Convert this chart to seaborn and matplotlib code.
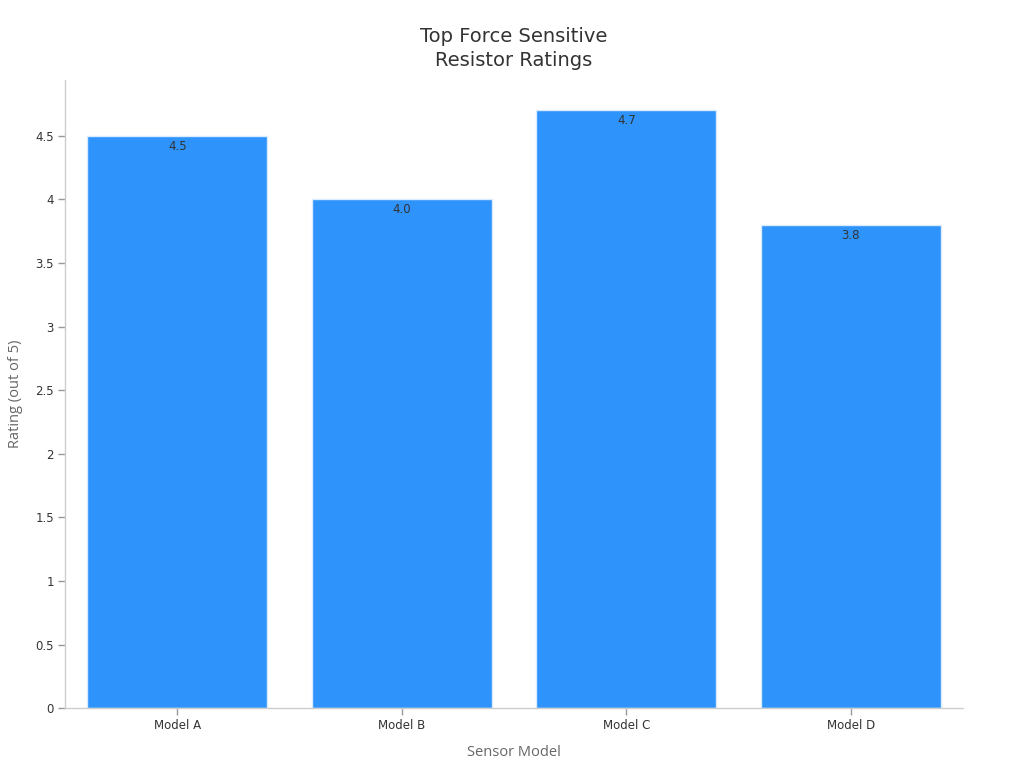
import matplotlib
matplotlib.use("Agg")
import matplotlib.pyplot as plt
import seaborn as sns
import pandas as pd

models = ["Model A", "Model B", "Model C", "Model D"]
ratings = [4.5, 4.0, 4.7, 3.8]
bar_labels = ["4.5", "4.0", "4.7", "3.8"]
y_ticks = [0, 0.5, 1, 1.5, 2, 2.5, 3, 3.5, 4, 4.5]
y_tick_labels = ["0", "0.5", "1", "1.5", "2", "2.5", "3", "3.5", "4", "4.5"]

sns.set_theme(style="white")
plt.rcParams["font.family"] = ["DejaVu Sans"]

df = pd.DataFrame({"model": models, "rating": ratings})

fig = plt.figure(figsize=(10.24, 7.68), dpi=100)
ax = fig.add_axes([0.0635, 0.078, 0.877, 0.818])

sns.barplot(data=df, x="model", y="rating", color="#2E93FA", saturation=1,
            width=0.8, edgecolor="#d8ebff", linewidth=1, ax=ax)

ax.set_xlim(-0.5, 3.5)
ax.set_ylim(0, 4.94)
ax.set_yticks(y_ticks)
ax.set_yticklabels(y_tick_labels)

for i, (v, lab) in enumerate(zip(ratings, bar_labels)):
    ax.text(i, v - 0.03, lab, ha="center", va="top", fontsize=8.5, color="#333333")

ax.set_title("Top Force Sensitive\nResistor Ratings", fontsize=14, color="#333333",
             pad=10, linespacing=1.35)
ax.set_xlabel("Sensor Model", fontsize=10.5, color="#666666", labelpad=9,
              family=["Open Sans", "DejaVu Sans"])
ax.set_ylabel("Rating (out of 5)", fontsize=10.5, color="#666666", labelpad=9,
              family=["Open Sans", "DejaVu Sans"])

for s in ["top", "right"]:
    ax.spines[s].set_visible(False)
for s in ["left", "bottom"]:
    ax.spines[s].set_color("#cccccc")
    ax.spines[s].set_linewidth(1)

ax.tick_params(axis="both", which="both", length=5, width=1, color="#999999",
               labelsize=8.5, labelcolor="#333333", bottom=True, left=True, pad=3)

fig.savefig("out.png", dpi=100, facecolor="white")
